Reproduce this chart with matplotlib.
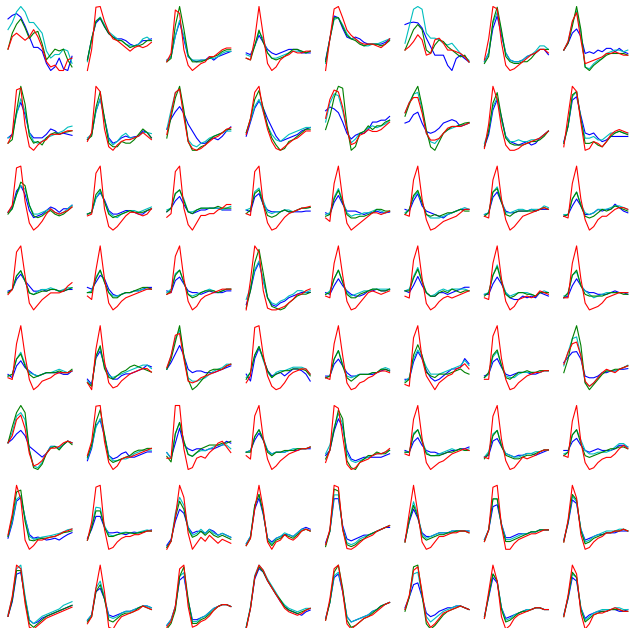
import matplotlib
matplotlib.use("Agg")
import matplotlib.pyplot as plt
import numpy as np

# 8 x 8 grid of panels, each panel holds 4 traces of 16 samples (row-major order)
n_rows, n_cols = 8, 8
n_samples = 16

red = [
    # row 0
    [68,103,113,103,93,103,123,103,73,33,18,23,8,8,38,43],
    [3,63,183,185,143,113,93,88,78,68,58,68,73,68,73,83],
    [28,53,178,168,63,18,3,13,23,28,43,43,53,63,68,68],
    [38,33,93,185,103,23,3,13,33,43,48,58,53,53,58,58],
    [3,93,178,185,153,118,103,93,83,78,78,78,73,68,78,93],
    [63,73,88,108,93,48,53,93,98,83,63,63,58,53,43,28],
    [33,93,185,178,83,18,3,8,18,28,38,48,53,63,63,53],
    [63,88,148,173,93,23,28,33,38,43,53,53,58,53,48,48],
    # row 1
    [23,48,173,178,73,13,3,18,28,33,48,48,48,53,58,58],
    [28,53,183,168,63,13,3,18,28,33,33,38,43,53,43,33],
    [53,113,173,183,103,33,13,8,13,23,33,43,48,58,68,73],
    [48,93,168,185,113,63,28,8,3,13,23,33,38,48,58,58],
    [93,143,168,163,123,63,23,28,48,53,63,58,58,63,73,83],
    [113,143,158,158,113,53,33,33,38,53,68,73,73,73,78,83],
    [13,83,191,153,73,23,8,8,13,23,28,33,38,43,53,63],
    [13,103,188,173,83,3,8,28,23,13,28,48,58,63,58,53],
    # row 2
    [53,73,178,183,83,23,3,13,28,48,63,53,48,53,58,68],
    [43,48,163,183,63,13,3,13,28,43,53,53,48,43,48,63],
    [38,48,163,178,63,18,3,23,43,43,48,48,58,63,73,73],
    [48,43,163,178,73,23,3,8,23,38,48,53,58,63,65,68],
    [38,28,138,188,93,23,3,13,23,33,43,53,53,48,53,58],
    [48,43,148,188,93,33,3,8,18,28,33,38,43,53,63,63],
    [43,38,148,188,93,33,3,13,28,43,48,53,58,63,68,63],
    [43,38,138,188,93,33,3,13,33,43,43,53,63,68,68,63],
    # row 3
    [48,63,173,191,103,23,3,18,33,43,53,53,53,58,73,83],
    [43,33,118,188,93,23,3,13,28,38,43,48,53,58,63,63],
    [48,53,158,188,93,28,3,13,33,43,48,53,58,63,63,63],
    [8,93,191,173,63,13,8,8,13,18,28,38,53,53,63,68],
    [43,38,138,188,103,28,3,8,23,38,53,58,53,48,53,58],
    [43,38,143,183,93,23,5,13,28,38,43,38,43,48,53,58],
    [38,33,138,188,93,28,3,13,33,38,43,38,43,58,53,48],
    [38,38,138,188,93,23,3,8,13,23,38,43,48,53,53,53],
    # row 4
    [38,33,138,191,103,33,3,13,28,33,38,48,53,53,53,58],
    [23,3,118,185,83,23,8,13,28,38,48,53,58,63,63,53],
    [68,103,163,168,93,28,23,28,38,43,48,53,58,63,73,78],
    [23,43,183,188,103,43,13,3,8,23,43,53,58,63,63,48],
    [38,33,138,191,103,23,3,8,23,28,38,43,53,58,58,53],
    [18,13,153,188,93,43,23,3,23,33,43,48,63,68,78,63],
    [33,33,158,188,93,33,3,8,23,33,43,48,53,53,58,58],
    [78,113,138,143,103,28,13,23,38,53,63,58,53,63,68,73],
    # row 5
    [83,103,148,161,123,53,18,23,33,53,68,68,73,83,88,83],
    [43,83,183,185,83,23,3,13,33,38,38,43,48,53,58,63],
    [38,38,178,178,63,8,13,38,43,38,53,63,78,83,68,53],
    [43,33,158,188,93,33,3,13,28,38,48,53,58,63,63,68],
    [28,63,191,183,103,23,8,13,28,33,38,48,53,53,58,68],
    [48,43,148,188,93,23,3,13,23,28,38,48,53,58,63,58],
    [43,38,158,188,93,33,8,13,28,43,38,43,48,58,63,63],
    [43,38,143,188,83,23,3,8,23,33,38,38,48,63,73,63],
    # row 6
    [54,110,188,150,40,15,25,40,40,45,48,50,55,62,65,70],
    [30,80,175,180,60,5,10,25,35,40,40,45,45,50,55,55],
    [20,40,100,180,150,60,20,35,50,40,55,45,35,45,40,35],
    [20,40,120,185,120,30,10,30,35,50,40,35,45,60,65,60],
    [20,60,175,170,60,10,8,15,25,35,40,45,55,60,65,70],
    [30,110,185,110,30,10,15,30,45,45,50,55,55,60,60,55],
    [30,60,170,175,70,10,10,25,35,40,45,50,50,55,60,60],
    [30,90,185,150,50,10,15,30,40,45,55,55,60,60,65,60],
    # row 7
    [45,100,185,175,80,15,10,20,30,40,45,50,55,60,65,70],
    [20,40,120,185,110,10,5,25,40,45,50,55,60,70,65,60],
    [15,30,70,170,180,70,15,20,30,35,45,60,70,75,75,70],
    [0,60,150,185,170,140,120,100,80,60,50,45,40,45,55,60],
    [30,90,175,185,110,20,5,15,25,35,40,45,55,65,75,80],
    [60,100,170,180,110,30,10,20,35,50,55,60,65,70,65,60],
    [35,110,185,140,40,5,15,35,45,50,55,60,65,65,60,60],
    [40,100,185,160,50,5,20,45,50,50,55,60,65,60,55,55],
]

green = [
    # row 0
    [68,113,138,153,128,98,113,118,83,38,53,68,63,68,38,18],
    [33,93,143,153,128,108,98,88,88,78,68,73,73,78,88,88],
    [28,38,133,188,123,48,28,28,28,33,38,43,48,58,63,63],
    [38,33,73,118,83,53,38,33,38,43,53,63,63,58,53,58],
    [28,93,153,153,128,103,93,88,78,73,78,78,78,73,78,88],
    [63,93,123,138,123,63,53,78,93,88,73,63,53,43,48,28],
    [23,43,143,183,118,43,28,23,23,28,28,38,53,63,63,63],
    [63,83,133,191,123,13,3,18,28,38,48,53,53,53,53,48],
    # row 1
    [23,33,113,183,133,43,23,28,18,38,48,53,48,53,55,58],
    [33,43,123,168,93,23,13,13,28,23,23,33,48,63,53,38],
    [43,103,158,191,123,33,8,8,18,23,38,48,53,58,68,68],
    [53,93,148,173,123,73,38,18,3,8,28,33,43,53,63,63],
    [63,98,148,178,173,73,8,18,53,58,73,63,73,73,83,88],
    [103,138,168,191,133,63,13,3,28,53,63,73,73,78,83,85],
    [18,63,143,173,103,43,28,23,23,23,28,33,33,38,48,63],
    [23,73,163,173,93,23,23,28,18,13,28,43,53,58,53,48],
    # row 2
    [48,63,103,138,128,73,43,38,43,53,58,48,43,48,58,68],
    [48,53,103,118,83,48,38,43,48,53,58,53,53,53,58,63],
    [53,63,103,113,83,53,48,58,63,63,63,63,68,63,63,63],
    [48,58,103,113,73,43,38,43,53,58,53,53,58,63,63,65],
    [43,48,93,118,83,48,38,38,43,43,48,53,63,63,58,58],
    [48,63,103,118,83,48,43,48,43,48,53,53,58,63,58,58],
    [43,53,113,123,83,48,43,53,58,58,58,58,58,63,68,63],
    [43,48,93,113,73,43,38,43,53,63,58,63,73,68,63,58],
    # row 3
    [53,63,103,118,88,53,48,53,58,58,63,63,58,58,63,68],
    [53,53,93,118,83,53,38,38,48,53,53,58,63,68,68,63],
    [48,58,103,118,83,48,38,43,53,58,58,58,53,58,63,63],
    [13,63,143,181,113,43,18,13,8,13,28,38,48,53,53,58],
    [48,53,93,118,83,48,38,38,48,53,58,63,63,58,58,63],
    [58,58,93,118,83,53,43,43,53,58,53,63,58,53,58,58],
    [43,53,103,128,83,48,38,43,53,53,48,48,43,53,53,53],
    [38,53,103,118,73,48,43,43,43,43,48,53,53,53,48,48],
    # row 4
    [43,48,93,108,73,48,38,43,48,53,53,53,58,53,53,63],
    [23,13,98,128,63,38,33,43,53,58,68,73,68,63,58,53],
    [63,93,143,191,103,33,3,13,28,43,58,63,63,63,73,78],
    [33,53,103,128,93,58,38,48,53,58,58,63,63,63,58,43],
    [38,43,93,118,73,38,28,38,48,48,48,53,53,63,63,58],
    [23,33,103,133,103,53,43,38,48,48,48,53,58,63,53,48],
    [38,53,103,118,73,38,33,43,53,53,58,53,53,58,58,58],
    [53,93,153,191,133,23,3,18,33,48,58,58,63,63,68,73],
    # row 5
    [83,128,168,188,168,63,13,8,23,53,68,73,63,78,88,78],
    [38,73,138,173,103,33,23,28,33,38,43,53,58,58,63,63],
    [43,28,103,133,83,48,43,53,63,68,73,73,73,78,78,83],
    [53,53,98,118,88,53,43,53,53,58,58,58,63,63,63,68],
    [38,63,123,178,153,33,13,8,28,38,48,48,58,53,53,63],
    [53,53,103,118,83,48,43,43,43,48,53,53,58,63,58,58],
    [38,53,103,118,73,48,43,38,38,43,48,48,53,58,63,63],
    [43,53,103,118,78,43,38,43,48,53,58,63,63,68,68,63],
    # row 6
    [50,100,170,175,90,40,38,42,45,45,48,50,55,60,62,65],
    [30,65,110,110,65,40,40,45,48,50,50,48,50,52,55,55],
    [25,40,100,140,120,70,50,55,65,55,65,55,50,55,50,45],
    [20,40,130,160,110,35,20,35,40,50,45,40,50,60,65,60],
    [15,55,165,160,60,20,15,20,30,35,45,50,55,60,65,70],
    [30,90,130,100,45,35,40,45,50,50,55,55,60,60,60,55],
    [30,60,140,140,70,30,30,35,40,45,50,55,55,60,60,60],
    [30,85,160,145,60,25,30,40,45,50,55,55,60,60,65,60],
    # row 7
    [45,90,170,170,90,25,15,25,35,45,50,55,60,65,70,75],
    [25,40,110,130,90,30,25,35,45,50,50,55,65,70,65,60],
    [10,25,60,150,175,90,25,25,35,40,50,60,70,75,75,70],
    [5,60,150,180,165,140,120,100,85,65,55,50,45,50,55,60],
    [30,80,165,185,120,30,10,15,25,35,40,50,60,70,75,80],
    [55,95,180,185,100,20,5,15,30,45,55,60,65,70,65,60],
    [35,100,160,140,60,25,30,40,50,55,55,60,65,65,60,60],
    [40,95,165,150,60,25,35,45,50,55,55,60,60,60,55,55],
]

cyan = [
    # row 0
    [123,143,173,188,173,143,143,128,113,63,43,53,53,68,63,28],
    [28,93,143,155,133,113,103,93,88,78,73,73,78,93,98,88],
    [33,43,103,148,103,43,33,33,33,33,38,38,43,53,58,58],
    [48,43,73,113,93,53,38,38,43,48,53,58,58,58,53,58],
    [23,93,148,153,133,108,93,93,83,73,73,78,78,83,88,93],
    [83,133,183,191,183,113,98,98,93,83,78,83,68,53,43,33],
    [28,53,138,168,113,53,33,28,28,33,43,48,58,73,73,63],
    [63,88,143,178,113,13,8,23,33,38,53,58,63,63,58,63],
    # row 1
    [38,43,103,148,113,53,28,23,28,38,43,48,53,58,68,71],
    [38,48,113,148,93,33,18,28,43,51,38,38,43,53,53,50],
    [68,123,173,183,113,38,23,18,28,33,43,48,53,58,63,63],
    [53,88,128,148,113,73,48,33,28,38,48,53,58,63,68,68],
    [83,133,158,153,113,63,28,38,53,58,68,73,68,73,78,88],
    [113,143,168,173,123,53,28,23,38,53,63,68,73,78,78,83],
    [28,63,133,158,93,48,33,33,38,33,33,38,38,43,53,63],
    [23,73,158,173,93,38,38,43,33,33,43,53,53,58,53,53],
    # row 2
    [53,63,103,128,118,73,48,48,53,58,63,53,48,53,63,73],
    [48,53,93,113,83,53,43,38,48,53,58,58,53,58,63,68],
    [58,63,103,113,88,53,53,58,63,63,63,63,63,58,63,68],
    [58,63,108,118,83,53,48,53,53,58,58,53,58,63,63,65],
    [48,53,98,123,88,53,43,48,48,53,53,58,63,58,53,58],
    [53,63,98,113,83,48,38,38,38,43,48,53,58,63,68,63],
    [48,53,113,128,88,53,53,58,63,63,58,63,63,63,73,68],
    [48,48,93,113,78,53,48,53,63,63,63,68,73,73,68,63],
    # row 3
    [53,63,103,118,88,53,48,58,63,63,68,63,58,63,68,68],
    [53,58,98,118,83,53,43,43,48,53,53,58,58,63,63,63],
    [53,63,108,118,83,48,43,48,53,58,63,58,53,58,63,63],
    [38,73,123,148,93,43,28,23,33,38,48,53,63,63,58,63],
    [48,58,93,118,83,53,43,48,53,58,58,63,63,63,63,63],
    [58,63,98,123,88,53,43,48,58,63,58,63,63,63,63,58],
    [48,53,103,133,88,53,43,48,53,53,53,48,43,53,58,53],
    [43,48,103,113,73,58,48,38,43,48,53,53,53,53,53,53],
    # row 4
    [43,48,93,113,78,53,48,43,48,53,53,58,63,58,53,58],
    [28,13,98,123,68,43,38,43,48,53,58,63,68,73,73,63],
    [63,103,153,178,103,38,28,28,33,38,48,58,63,68,78,78],
    [38,53,103,128,88,53,38,53,58,58,63,68,68,68,63,48],
    [38,43,93,118,78,43,38,43,48,48,48,53,53,63,68,63],
    [28,38,93,118,98,68,48,48,48,53,58,63,68,73,88,73],
    [38,48,98,113,73,43,38,38,48,53,53,53,53,53,58,58],
    [73,113,153,158,103,23,13,23,38,53,58,58,58,63,68,75],
    # row 5
    [83,113,158,168,148,63,18,13,28,53,73,73,68,78,88,83],
    [33,68,123,148,103,43,28,28,33,33,38,48,53,58,58,58],
    [53,38,103,133,83,48,43,53,58,58,63,68,73,73,73,63],
    [53,58,98,118,93,58,48,53,53,53,58,63,63,63,63,68],
    [53,78,128,168,138,53,33,28,33,38,43,48,53,53,58,63],
    [53,53,108,118,88,53,43,43,48,53,58,63,58,63,58,63],
    [43,58,108,118,78,53,48,43,43,48,53,53,58,58,63,63],
    [48,53,103,118,88,58,48,48,53,53,53,58,68,78,78,68],
    # row 6
    [50,90,150,160,100,50,42,45,48,50,52,55,58,62,68,70],
    [30,70,120,118,70,45,42,45,50,52,50,48,52,55,58,55],
    [25,40,110,150,130,75,55,60,70,60,70,60,55,60,55,50],
    [25,45,130,160,110,40,25,40,45,55,50,45,55,65,65,60],
    [20,55,150,150,65,25,20,25,35,40,45,50,55,60,65,70],
    [30,90,140,105,50,40,45,50,55,55,55,60,60,60,60,60],
    [35,60,140,140,75,35,35,40,45,50,50,55,55,60,60,60],
    [35,85,155,140,65,30,35,45,50,55,60,60,60,65,65,60],
    # row 7
    [50,95,175,185,100,35,25,35,45,50,55,60,65,75,80,85],
    [30,45,120,140,95,40,35,40,50,55,55,60,65,70,70,65],
    [20,35,70,150,160,85,30,30,40,45,55,65,70,75,75,70],
    [5,65,155,185,170,145,125,105,85,70,60,55,50,55,60,60],
    [35,80,155,165,115,40,25,30,35,40,45,55,60,70,75,80],
    [60,95,160,165,100,40,25,35,45,55,60,65,70,70,65,60],
    [40,100,160,140,65,30,35,45,50,55,60,60,65,65,60,60],
    [45,95,160,150,65,30,40,50,55,60,60,60,65,65,60,60],
]

blue = [
    # row 0
    [153,163,168,158,133,103,73,73,63,28,8,18,43,13,8,48],
    [33,93,138,151,128,108,98,93,93,88,78,73,78,88,88,93],
    [33,43,103,143,93,43,33,28,33,33,43,33,43,48,53,58],
    [53,48,73,103,83,63,53,48,53,58,63,63,63,53,53,53],
    [33,93,158,153,123,98,93,98,93,83,78,78,78,78,83,93],
    [138,143,145,143,128,98,73,48,48,48,18,3,38,48,38,28],
    [28,53,123,158,103,53,33,28,28,33,43,48,53,63,63,48],
    [63,83,113,125,103,53,58,53,63,58,68,68,58,68,58,53],
    # row 1
    [38,48,108,138,103,53,38,38,38,48,63,58,48,51,48,45],
    [33,48,113,148,93,38,23,28,38,43,38,41,43,58,53,38],
    [68,98,118,133,113,83,63,43,28,28,38,43,38,48,63,75],
    [43,83,123,143,123,93,68,43,28,33,38,43,48,58,63,68],
    [113,123,118,108,83,53,38,48,53,53,63,83,83,88,88,98],
    [83,88,108,115,83,58,53,58,68,83,88,93,88,73,78,83],
    [18,53,123,153,103,48,33,28,23,28,33,23,28,43,53,63],
    [28,73,148,158,103,53,48,53,38,28,33,43,43,43,43,43],
    # row 2
    [53,68,113,128,103,58,38,43,48,58,68,63,53,63,63,73],
    [48,53,93,108,88,58,48,48,53,58,58,53,48,48,58,63],
    [53,63,83,95,73,53,48,53,58,58,63,63,63,58,58,58],
    [58,53,93,103,73,58,53,53,53,58,53,53,53,53,55,55],
    [53,48,83,103,78,58,58,58,53,48,53,53,58,53,53,55],
    [63,58,88,108,73,58,53,48,43,38,48,53,58,63,63,63],
    [48,53,98,113,83,58,53,53,58,58,58,63,58,63,63,63],
    [43,48,73,93,73,48,48,53,63,58,63,63,78,68,58,53],
    # row 3
    [58,63,93,108,88,73,58,58,63,58,63,63,58,58,63,63],
    [68,63,83,103,93,63,48,43,48,53,53,58,58,63,68,68],
    [58,53,88,98,78,58,53,53,48,53,58,53,53,53,58,58],
    [23,63,118,143,93,43,23,18,28,33,43,48,53,58,58,58],
    [53,48,73,93,73,58,48,43,43,48,58,58,63,58,58,63],
    [58,53,73,98,73,53,43,43,53,53,48,53,58,63,68,68],
    [48,48,78,98,78,53,38,33,33,43,38,43,38,53,48,43],
    [38,43,73,93,73,58,53,53,48,48,48,53,58,53,53,48],
    # row 4
    [48,38,73,88,68,58,48,43,48,53,53,53,53,48,48,58],
    [33,18,93,113,73,48,33,33,43,48,48,53,58,63,73,68],
    [63,83,108,133,103,63,53,58,58,53,53,53,58,63,68,73],
    [48,28,93,123,93,58,43,48,53,43,53,63,63,58,48,28],
    [43,43,78,93,73,53,43,43,48,48,48,48,53,58,63,58],
    [33,33,83,113,93,58,38,28,33,43,53,63,63,68,93,78],
    [43,48,83,93,68,48,43,48,53,53,53,48,48,53,58,58],
    [83,98,113,115,93,43,38,38,43,53,53,58,58,63,63,65],
    # row 5
    [83,93,108,118,103,73,63,53,43,53,73,73,68,78,88,83],
    [28,63,128,143,98,43,33,38,48,53,38,38,43,48,53,53],
    [53,38,78,118,73,63,58,63,63,58,63,63,68,73,83,78],
    [53,58,88,108,88,58,48,53,53,53,58,58,58,63,63,63],
    [48,63,118,153,128,63,38,33,38,43,43,43,43,43,48,53],
    [58,53,83,95,73,58,53,53,48,48,53,58,58,63,63,68],
    [43,48,88,95,73,53,48,43,48,48,53,53,48,53,58,63],
    [58,58,83,93,73,58,53,58,63,58,58,58,63,73,73,68],
    # row 6
    [45,85,145,155,100,55,45,48,45,40,42,45,40,48,55,60],
    [35,60,95,95,65,50,50,52,48,45,50,52,50,52,55,58],
    [30,45,90,120,110,75,60,65,65,60,70,65,55,60,55,50],
    [25,45,120,150,105,40,30,40,45,50,50,45,55,65,70,65],
    [25,55,140,140,70,35,30,35,40,45,45,50,55,60,65,65],
    [35,85,120,95,55,45,45,50,55,55,55,60,60,60,60,60],
    [35,60,120,125,75,40,40,45,50,50,50,55,55,60,60,60],
    [35,80,145,135,65,35,40,45,50,50,55,55,55,60,60,60],
    # row 7
    [45,85,160,165,95,35,25,30,40,45,50,55,60,65,70,75],
    [30,45,110,120,90,45,40,45,50,55,55,60,65,70,70,65],
    [20,35,70,140,150,85,35,35,40,45,55,65,70,75,75,70],
    [5,60,145,175,165,140,120,100,80,65,55,50,45,40,50,55],
    [35,80,150,160,110,40,25,30,35,40,45,55,60,70,75,80],
    [65,95,130,135,95,50,40,45,55,60,65,65,70,70,65,60],
    [40,95,150,135,65,35,40,45,50,55,60,60,65,65,60,60],
    [45,90,150,140,65,35,45,50,55,55,55,60,60,55,55,60],
]

traces = [(blue, 'b'), (cyan, 'c'), (green, 'g'), (red, 'r')]

fig = plt.figure(figsize=(6.29, 6.28), dpi=100)
W, H = 629.0, 628.0
x = np.arange(n_samples)

for i in range(n_rows * n_cols):
    r, c = divmod(i, n_cols)
    left = (8 + 79.4 * c) / W
    bottom = 1 - (6.5 + 79.8 * r + 64) / H
    ax = fig.add_axes([left, bottom, 64 / W, 64 / H])
    for data, col in traces:
        ax.plot(x, data[i], color=col, lw=0.8, clip_on=False)
    ax.margins(0)
    ax.axis('off')

fig.savefig('out.png', dpi=100)
